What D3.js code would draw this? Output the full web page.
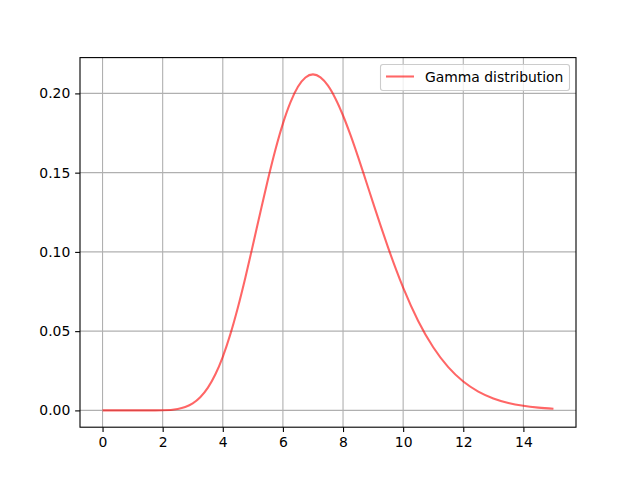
<!DOCTYPE html>
<html><head><meta charset="utf-8">
<script src="https://cdn.jsdelivr.net/npm/d3@7"></script>
<style>body{margin:0;background:#fff}svg{display:block}text{font-family:"DejaVu Sans",sans-serif}</style>
</head><body>
<script>
const xValues = [0,0.5,1,1.5,2,2.5,2.75,3,3.25,3.5,3.75,4,4.25,4.5,4.75,5,5.25,5.5,5.75,6,6.25,6.5,6.75,7,7.25,7.5,7.75,8,8.25,8.5,8.75,9,9.25,9.5,9.75,10,10.5,11,11.5,12,12.5,13,13.5,14,14.5,15];
const yValues = [0,0,0.00000005,0.0000055,0.000113,0.000944,0.00217,0.00445,0.00829,0.01418,0.02261,0.03383,0.04796,0.06477,0.08374,0.10414,0.12508,0.14551,0.16445,0.18097,0.19439,0.20418,0.21007,0.21199,0.21016,0.20489,0.19666,0.18605,0.17362,0.15993,0.14555,0.13096,0.11656,0.10270,0.08961,0.07745,0.05644,0.03981,0.02729,0.01822,0.01187,0.00756,0.00472,0.00289,0.00174,0.00103];
const xTicks = [0,2,4,6,8,10,12,14];
const yTicks = [0.00,0.05,0.10,0.15,0.20];
const seriesName = "Gamma distribution";

const W=640,H=480, L=80, R=576, T=57.6, B=427.2, FS=13.9;
const svg=d3.select("body").append("svg").attr("width",W).attr("height",H);
const xmin=d3.min(xValues), xmax=d3.max(xValues), ymin=d3.min(yValues), ymax=d3.max(yValues);
const xs=d3.scaleLinear().domain([xmin-(xmax-xmin)*0.05, xmax+(xmax-xmin)*0.05]).range([L,R]);
const ys=d3.scaleLinear().domain([ymin-(ymax-ymin)*0.05, ymax+(ymax-ymin)*0.05]).range([B,T]);

// grid
const g=svg.append("g");
g.selectAll(".vx").data(xTicks).join("line").attr("x1",d=>xs(d)).attr("x2",d=>xs(d)).attr("y1",T).attr("y2",B).attr("stroke","#b0b0b0").attr("stroke-width",1.1);
g.selectAll(".hy").data(yTicks).join("line").attr("y1",d=>ys(d)).attr("y2",d=>ys(d)).attr("x1",L).attr("x2",R).attr("stroke","#b0b0b0").attr("stroke-width",1.1);

// line
svg.append("path").datum(xValues.map((x,i)=>[x,yValues[i]]))
  .attr("d",d3.line().x(d=>xs(d[0])).y(d=>ys(d[1])).curve(d3.curveMonotoneX))
  .attr("fill","none").attr("stroke","red").attr("stroke-opacity",0.6).attr("stroke-width",2.08);

// axes
const xa=svg.append("g").attr("transform",`translate(0,${B})`).call(d3.axisBottom(xs).tickValues(xTicks).tickSize(4.86).tickPadding(4.86).tickFormat(d3.format("d")));
const ya=svg.append("g").attr("transform",`translate(${L},0)`).call(d3.axisLeft(ys).tickValues(yTicks).tickSize(4.86).tickPadding(4.86).tickFormat(d3.format(".2f")));
[xa,ya].forEach(a=>{a.select(".domain").remove();a.selectAll("text").attr("font-size",FS).attr("fill","#000").style("font-family","DejaVu Sans");a.selectAll("line").attr("stroke","#000").attr("stroke-width",1.1);});
svg.append("rect").attr("x",L).attr("y",T).attr("width",R-L).attr("height",B-T).attr("fill","none").attr("stroke","#000").attr("stroke-width",1.1);

// legend
const lg=svg.append("g");
lg.append("rect").attr("x",380.5).attr("y",64.5).attr("width",189).attr("height",26).attr("rx",2.5).attr("fill","#fff").attr("fill-opacity",0.8).attr("stroke","#cccccc").attr("stroke-width",1.1);
lg.append("line").attr("x1",386).attr("x2",414).attr("y1",76.5).attr("y2",76.5).attr("stroke","red").attr("stroke-opacity",0.6).attr("stroke-width",2.08);
lg.append("text").attr("x",425).attr("y",81.5).attr("font-size",FS).text(seriesName);
</script>
</body></html>
